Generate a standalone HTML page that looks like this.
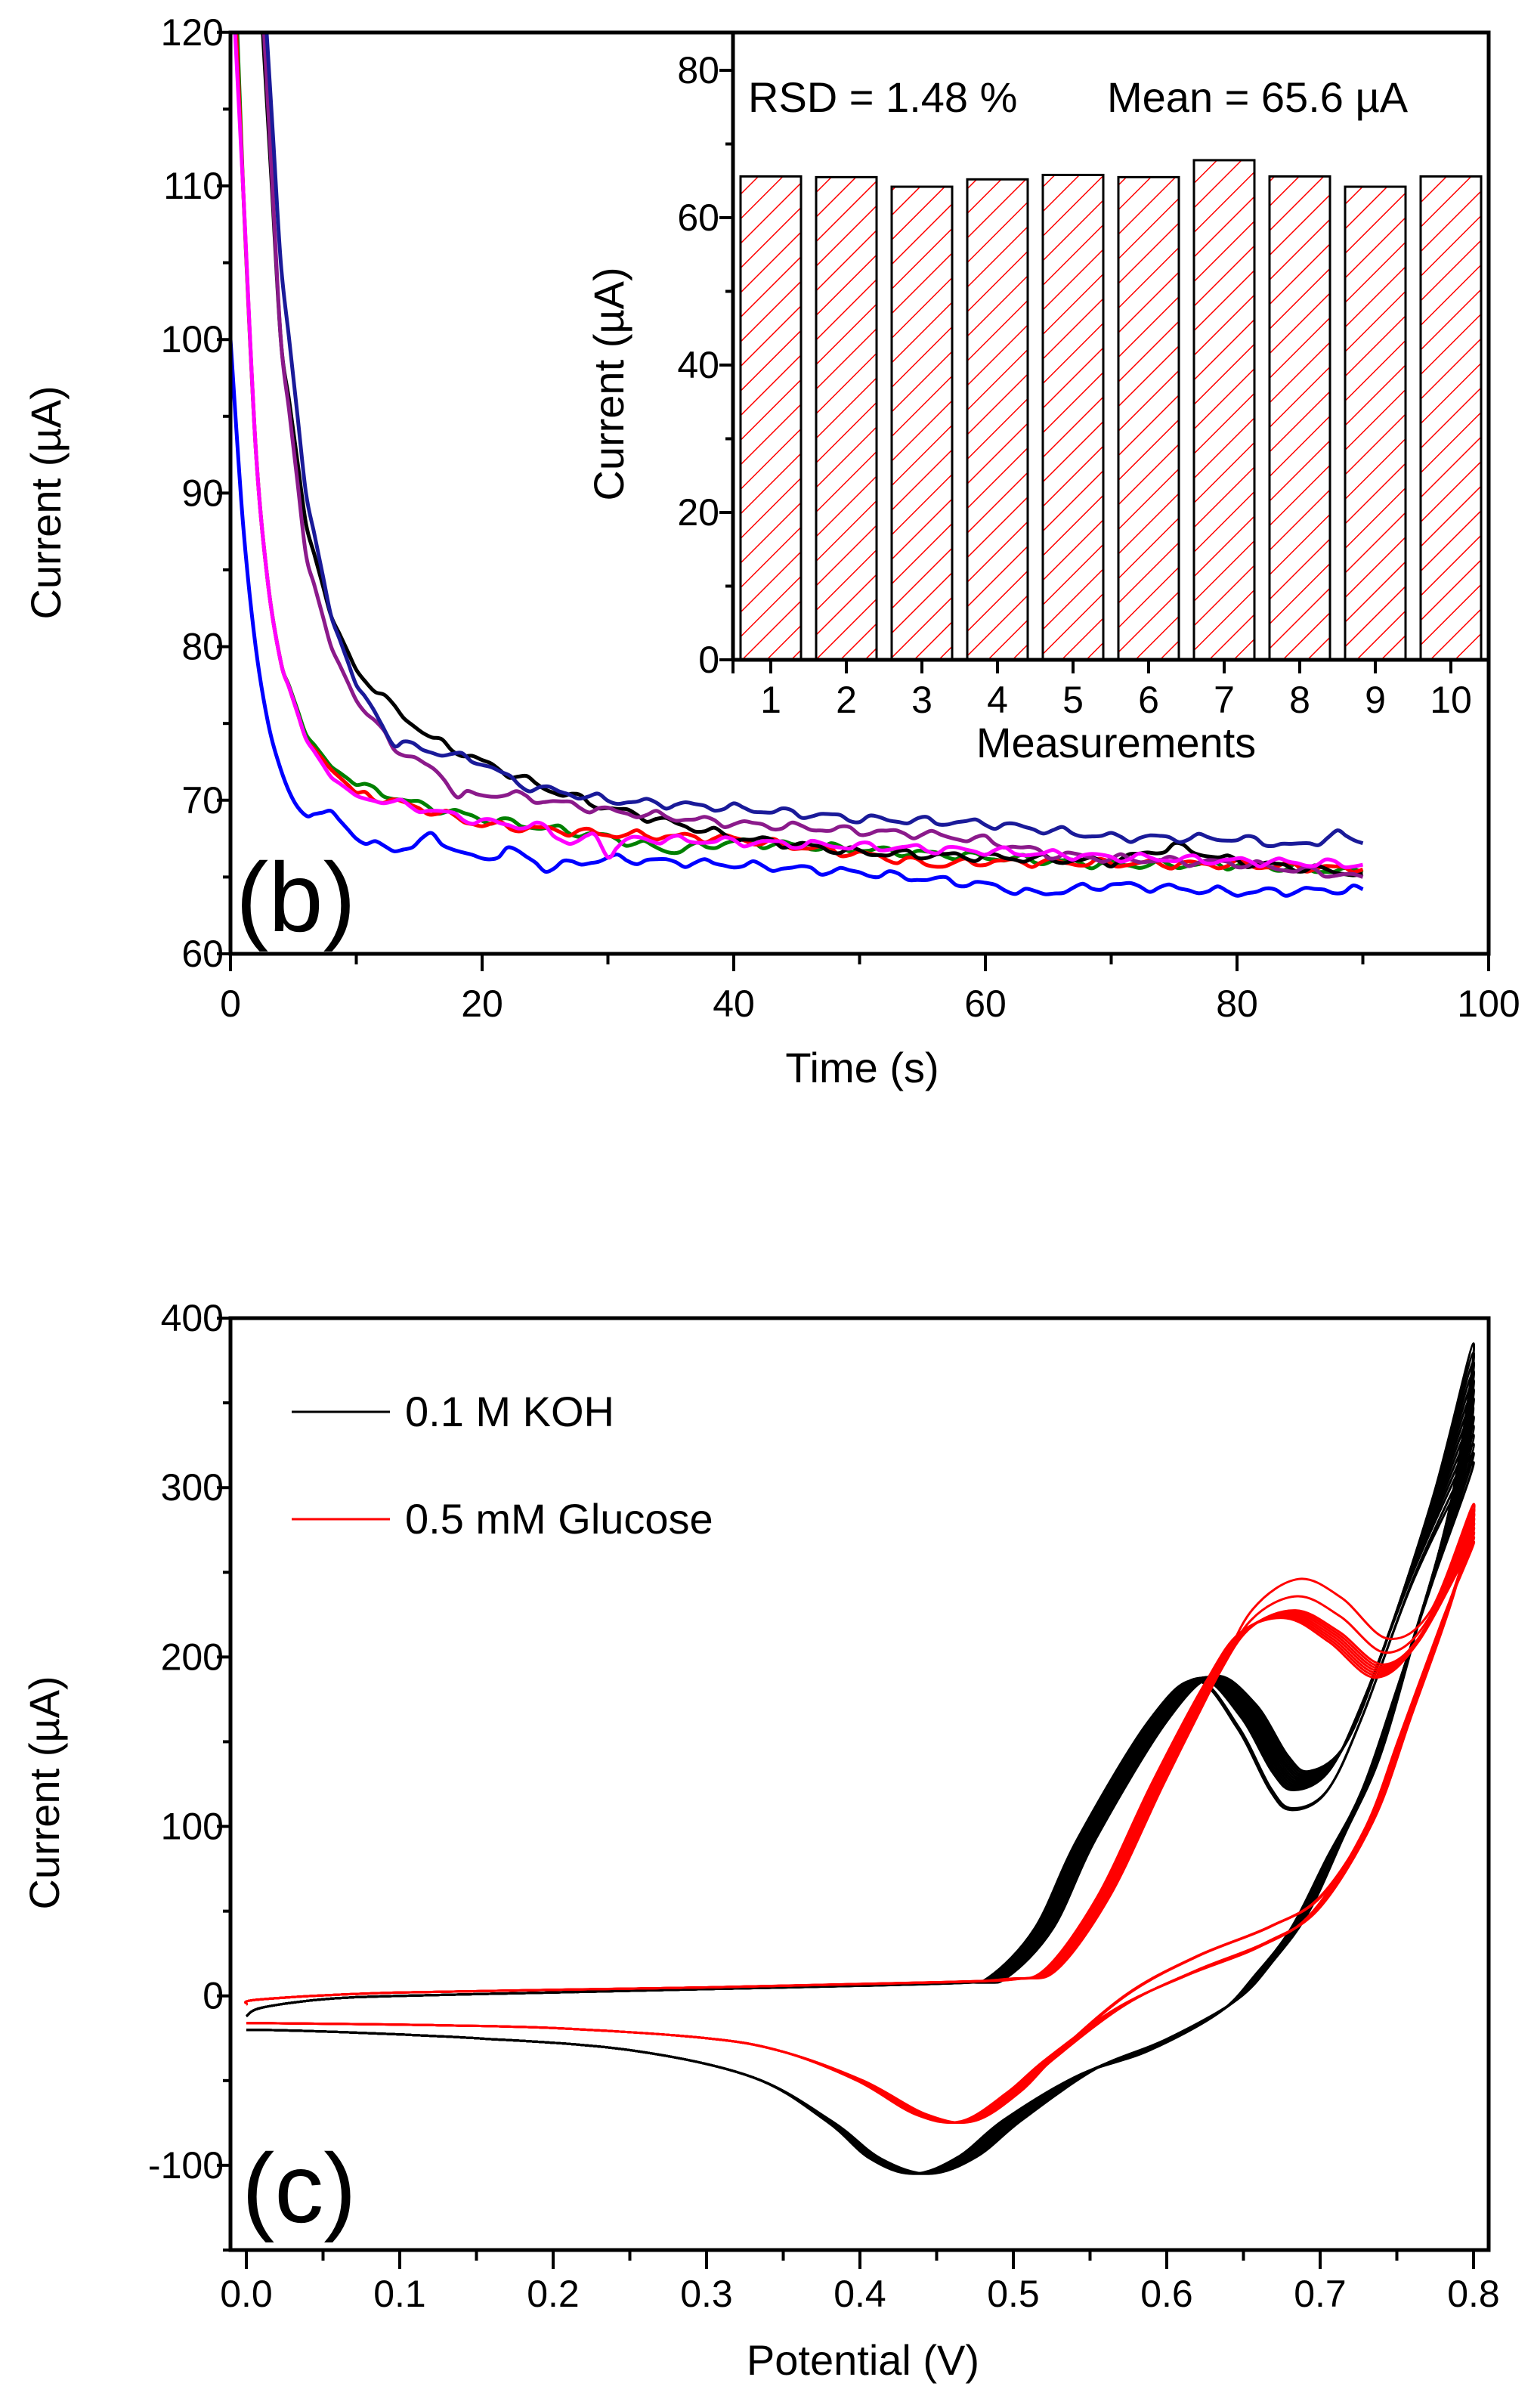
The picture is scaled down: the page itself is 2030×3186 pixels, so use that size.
<!DOCTYPE html>
<html><head><meta charset="utf-8"><style>
html,body{margin:0;padding:0;background:#fff;}
svg{display:block;}
text{font-family:"Liberation Sans",sans-serif;fill:#000;}
</style></head><body>
<svg id="s" width="2030" height="3186" viewBox="0 0 2030 3186" xmlns="http://www.w3.org/2000/svg">
<defs>
<pattern id="h" patternUnits="userSpaceOnUse" width="23" height="23" patternTransform="rotate(45)">
<rect width="23" height="23" fill="#fff"/><line x1="0" y1="0" x2="0" y2="23" stroke="#f00" stroke-width="3"/>
</pattern>
<clipPath id="cb"><rect x="305" y="43" width="1665" height="1219"/></clipPath>
<clipPath id="cc"><rect x="305" y="1744" width="1665" height="1233"/></clipPath>
</defs>
<g id="g"></g>
</svg>
<script>
const NS="http://www.w3.org/2000/svg";
const G=document.getElementById('g');
function el(t,a,txt,parent){const e=document.createElementNS(NS,t);for(const k in a)e.setAttribute(k,a[k]);if(txt!==undefined)e.textContent=txt;(parent||G).appendChild(e);return e;}
function line(x1,y1,x2,y2,w,c){el('line',{x1,y1,x2,y2,stroke:c||'#000','stroke-width':w||3});}
function txt(x,y,s,fs,anchor,extra){const a={x,y,'font-size':fs,'text-anchor':anchor||'middle'};Object.assign(a,extra||{});el('text',a,s);}
function crPath(pts){let d='M'+pts[0][0].toFixed(1)+' '+pts[0][1].toFixed(1);for(let i=0;i<pts.length-1;i++){const p0=pts[Math.max(0,i-1)],p1=pts[i],p2=pts[i+1],p3=pts[Math.min(pts.length-1,i+2)];const c1x=p1[0]+(p2[0]-p0[0])/6,c1y=p1[1]+(p2[1]-p0[1])/6,c2x=p2[0]-(p3[0]-p1[0])/6,c2y=p2[1]-(p3[1]-p1[1])/6;d+=' C'+c1x.toFixed(1)+' '+c1y.toFixed(1)+' '+c2x.toFixed(1)+' '+c2y.toFixed(1)+' '+p2[0].toFixed(1)+' '+p2[1].toFixed(1);}return d;}

// ---------- Plot (b) ----------
const bx=t=>305+t*16.65, by=v=>1262-(v-60)*20.32;
const series=[
['#0000ff',[[0,100],[1,88],[2,80],[3,75],[4,72],[5,70],[6,69],[8,69.3],[10,67.5],[13,66.7],[16,67.6],[20,66],[22,66.9],[25,65.6],[30,66.2],[40,65.8],[50,65.3],[60,64.5],[64,63.9],[70,64.5],[80,64],[90,64.2]]],
['#008000',[[0.5,121],[1,110],[2,93],[3,84],[4,79],[6,74.3],[8,72.2],[10,71],[15,69.7],[20,68.8],[30,67.6],[35,66.7],[40,67.3],[50,66.8],[60,66.3],[70,65.8],[80,65.8],[90,65.3]]],
['#ff0000',[[0.4,121],[1,110],[2,93],[3,84],[4,79],[6,74],[8,72],[10,70.5],[15,69.5],[20,68.4],[30,67.8],[40,67.5],[50,66.5],[56,65.8],[60,66],[80,65.8],[90,65.5]]],
['#000000',[[2.5,121],[4,100],[6,88],[8,82],[10,78.5],[13,76],[16,74],[20,72.5],[25,70.8],[30,69.5],[40,67.6],[50,66.6],[60,66.3],[70,66],[75,67],[80,66],[90,65.2]]],
['#8b1a8b',[[2.6,121],[4,100],[6,86],[8,80],[10,76.5],[13,73.5],[17,71.5],[18,70.3],[22,70.4],[30,69.3],[40,68.5],[50,68],[55,67.8],[60,67.4],[65,66.5],[70,66.2],[80,65.9],[90,65]]],
['#1a1a99',[[2.8,121],[4,105],[6,90],[8,82],[10,77.5],[12,75],[13,73.8],[16,73.2],[20,72.5],[23,71],[30,70],[40,69.5],[50,68.8],[60,68.5],[70,67.6],[80,67.5],[85,67],[88,67.8],[90,67.2]]],
['#ff00ff',[[0.3,121],[1,110],[2,93],[3,84],[4,79],[6,74],[8,71.5],[10,70.3],[15,69.5],[20,68.6],[25,68.2],[27,67.2],[29,67.6],[30,66.6],[32,67.5],[40,67.3],[50,67],[60,66.7],[70,66.3],[90,65.8]]]
];
const gb=el('g',{'clip-path':'url(#cb)'});
series.forEach((s,si)=>{
  const k=s[1];const pts=[];
  for(let i=0;i<k.length-1;i++){
    const [t0,v0]=k[i],[t1,v1]=k[i+1];const n=Math.max(1,Math.round((t1-t0)/0.75));
    for(let j=0;j<n;j++){const t=t0+(t1-t0)*j/n;let v=v0+(v1-v0)*j/n;
      if(t>10)v+=0.22*Math.sin(t*1.7+si*1.7)+0.1*Math.sin(t*2.9+si);
      pts.push([bx(t),by(v)]);}
  }
  pts.push([bx(k[k.length-1][0]),by(k[k.length-1][1])]);
  el('path',{d:crPath(pts),fill:'none',stroke:s[0],'stroke-width':5,'stroke-linejoin':'round'},undefined,gb);
});
el('rect',{x:305,y:43,width:1665,height:1219,fill:'none',stroke:'#000','stroke-width':5});
for(let v=60;v<=120;v+=5){const y=by(v);line(v%10==0?287:295,y,305,y,4);}
for(let v=60;v<=120;v+=10)txt(296,by(v)+17,String(v),50,'end');
for(let t=0;t<=100;t+=10){const x=bx(t);line(x,1262,x,t%20==0?1285:1276,4);}
for(let t=0;t<=100;t+=20)txt(bx(t),1345,String(t),50);
txt(1141,1432,'Time (s)',56,'middle');
txt(0,0,'Current (\u00b5A)',56,'middle',{transform:'translate(80,665) rotate(-90)'});
txt(312,1232,'(b)',130,'start');

// inset
const iy=v=>873-v*9.75;
for(let k=1;k<=10;k++){const h=[65.6,65.5,64.2,65.2,65.8,65.5,67.8,65.6,64.2,65.6][k-1];const cx=920+100*k;
  el('rect',{x:cx-40,y:iy(h),width:80,height:873-iy(h),fill:'url(#h)',stroke:'#000','stroke-width':3});}
line(970,43,970,875,5);line(968,873,1970,873,5);
for(let v=0;v<=80;v+=10){const y=iy(v);line(v%20==0?952:960,y,970,y,4);}
for(let v=0;v<=80;v+=20)txt(952,iy(v)+17,String(v),50,'end');
for(let k=1;k<=10;k++){line(920+100*k,873,920+100*k,891,4);txt(920+100*k,943,String(k),50);}
line(970,873,970,891,4);
txt(1477,1002,'Measurements',56);
txt(0,0,'Current (\u00b5A)',56,'middle',{transform:'translate(825,508) rotate(-90)'});
txt(990,148,'RSD = 1.48 %',56,'start');
txt(1465,148,'Mean = 65.6 \u00b5A',56,'start');

// ---------- Plot (c) ----------
const cx=p=>326+p*2030, cy=v=>2977-(v+150)*2.2418;
const blk=[[0,-12],[0.01,-7],[0.05,-2],[0.1,0],[0.2,2],[0.3,4],[0.4,6],[0.47,8],[0.49,11],[0.52,40],[0.548,93],[0.594,162],[0.625,188],[0.652,168],[0.673,136],[0.687,126],[0.71,139],[0.733,185],[0.768,273],[0.8,350],
 [0.78,270],[0.756,197],[0.733,131],[0.71,88],[0.687,45],[0.664,17],[0.64,-6],[0.594,-29],[0.548,-45],[0.5,-73],[0.47,-95],[0.44,-105],[0.41,-96],[0.38,-74],[0.33,-48],[0.25,-32],[0.15,-25],[0.05,-21],[0,-20]];
const red=[[0,-5],[0.01,-2],[0.1,2],[0.3,5],[0.45,8],[0.5,10],[0.525,16],[0.559,59],[0.594,125],[0.629,185],[0.652,216],[0.682,226],[0.71,213],[0.74,193],[0.768,216],[0.8,279],
 [0.784,231],[0.756,159],[0.733,102],[0.698,51],[0.664,31],[0.617,14],[0.571,-6],[0.525,-37],[0.5,-57],[0.47,-74],[0.44,-70],[0.4,-50],[0.35,-33],[0.3,-25],[0.2,-19],[0.1,-17],[0,-16]];
const gc=el('g',{'clip-path':'url(#cc)'});
function loop(L,col,d,peakAdd,revAdd,hs){
  const ri=L.findIndex(q=>q[0]===0.8);
  const pts=L.map(([p,v],idx)=>{const rev=idx>=ri;
    let vv=v*(1+d*0.1*Math.min(1,Math.max(0,(p-0.62)/0.18)));
    if(!rev&&p>0.62&&p<0.78)vv+=peakAdd*Math.sin(Math.PI*(p-0.62)/0.16);
    if(rev&&p>0.5&&p<0.78)vv+=revAdd*Math.sin(Math.PI*(p-0.5)/0.28);
    let pp=p; if(p>0.35&&p<0.8)pp+=hs*Math.min(1,(p-0.35)/0.1);
    return [cx(pp),cy(vv)];});
  el('path',{d:crPath(pts),fill:'none',stroke:col,'stroke-width':3},undefined,gc);
}
for(let i=0;i<14;i++){const d=-1+2*i/13;loop(blk,'#000',d,(i<2?-10:0)+d*2,d*4,d*0.006);}
for(let i=0;i<9;i++){const d=-1+2*i/8;loop(red,'#f00',d*0.4,i==8?18:(i==7?8:0),i>=7?10:d*2,d*0.004);}
el('rect',{x:305,y:1744,width:1665,height:1233,fill:'none',stroke:'#000','stroke-width':5});
for(let v=-150;v<=400;v+=50){const y=cy(v);line(v%100==0?287:295,y,305,y,4);}
for(let v=-100;v<=400;v+=100)txt(296,cy(v)+17,String(v),50,'end');
for(let p=0;p<=16;p++){const x=cx(p*0.05);line(x,2977,x,p%2==0?3002:2991,4);}
for(let p=0;p<=8;p++)txt(cx(p*0.1),3052,(p/10).toFixed(1),50);
txt(1142,3142,'Potential (V)',56,'middle');
txt(0,0,'Current (\u00b5A)',56,'middle',{transform:'translate(78,2372) rotate(-90)'});
txt(320,2940,'(c)',130,'start');
line(386,1868,516,1868,3,'#000');txt(536,1887,'0.1 M KOH',56,'start');
line(386,2010,516,2010,3,'#f00');txt(536,2029,'0.5 mM Glucose',56,'start');
</script>
</body></html>
